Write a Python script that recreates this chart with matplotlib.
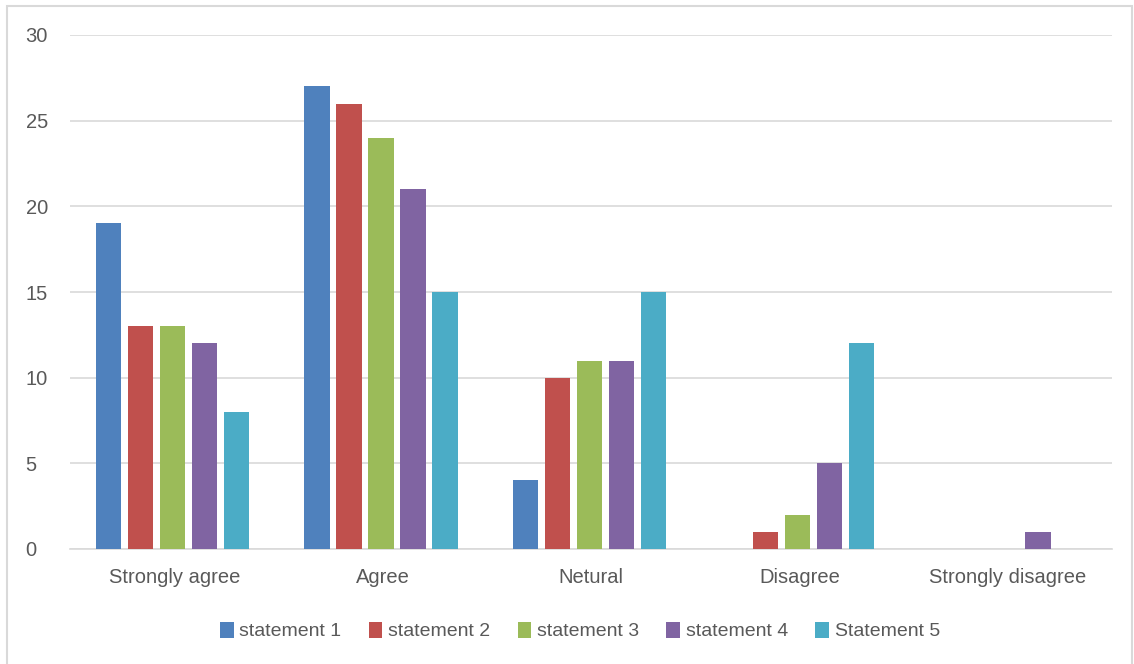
import matplotlib
matplotlib.use("Agg")
import matplotlib.pyplot as plt
from matplotlib.patches import Rectangle
import numpy as np

categories = ["Strongly agree", "Agree", "Netural", "Disagree", "Strongly disagree"]
series_names = ["statement 1", "statement 2", "statement 3", "statement 4", "Statement 5"]
statement1 = [19, 27, 4, 0, 0]
statement2 = [13, 26, 10, 1, 0]
statement3 = [13, 24, 11, 2, 0]
statement4 = [12, 21, 11, 5, 1]
statement5 = [8, 15, 15, 12, 0]
y_ticks = [0, 5, 10, 15, 20, 25, 30]

colors = ["#4F81BD", "#C0504D", "#9BBB59", "#8064A2", "#4BACC6"]
text_color = "#595959"
plt.rcParams["font.family"] = ["Liberation Sans", "DejaVu Sans"]

fig = plt.figure(figsize=(11.34, 6.64), dpi=100)
# outer chart border
fig.patches.append(Rectangle((7 / 1134, -0.01), 1125 / 1134, 1 - 6 / 664 + 0.01,
                             transform=fig.transFigure, fill=False,
                             edgecolor="#D9D9D9", linewidth=1.5))

ax = fig.add_axes([70 / 1134, 1 - 549 / 664, (1112 - 70) / 1134, (549 - 35) / 664])

x = np.arange(len(categories))
step = 0.1535
width = 0.122
all_series = [statement1, statement2, statement3, statement4, statement5]
for i, (vals, name, c) in enumerate(zip(all_series, series_names, colors)):
    ax.bar(x + (i - 2) * step - 0.008, vals, width=width, color=c, label=name, zorder=3)

ax.set_xlim(-0.5, len(categories) - 0.5)
ax.set_ylim(0, 30)
ax.set_yticks(y_ticks)
ax.set_xticks(x)
ax.set_xticklabels(categories)
ax.yaxis.grid(True, color="#D9D9D9", linewidth=1.2, zorder=0)
for s in ["top", "right", "left"]:
    ax.spines[s].set_visible(False)
ax.spines["bottom"].set_color("#D9D9D9")
ax.spines["bottom"].set_linewidth(1.2)
ax.tick_params(axis="both", length=0, labelsize=14.5, colors=text_color)
ax.tick_params(axis="y", pad=32)
ax.tick_params(axis="x", pad=14)
for lbl in ax.get_yticklabels():
    lbl.set_horizontalalignment("left")

leg = fig.legend(loc="center", bbox_to_anchor=(580 / 1134, 1 - 631 / 664), ncol=5,
                 frameon=False, fontsize=14, handlelength=0.7, handleheight=0.9,
                 handletextpad=0.3, columnspacing=1.4)
for t in leg.get_texts():
    t.set_color(text_color)

fig.savefig("out.png", dpi=100)
